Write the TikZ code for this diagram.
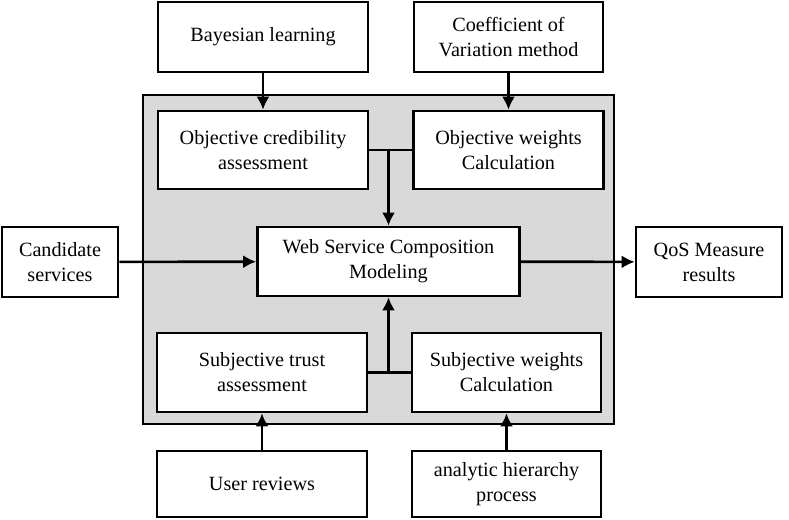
\documentclass[tikz,border=0pt]{standalone}
\usepackage{fontspec}
\setmainfont{Liberation Serif}
\usetikzlibrary{arrows.meta,positioning}
\definecolor{panelgray}{HTML}{D9D9D9}

\begin{document}
\begin{tikzpicture}[
    x=0.02cm, y=-0.02cm,
    box/.style={draw, line width=1.5pt, fill=white, align=center, inner sep=0pt,
      font=\fontsize{11.5}{14.2}\selectfont},
    arrow/.style={-{Latex[length=2.6mm, width=2.6mm]}, line width=1.5pt},
    link/.style={line width=1.5pt}
  ]
    \useasboundingbox (0,0) rectangle (789,520);
    % grey panel behind the inner steps
    \draw[line width=1.5pt, fill=panelgray] (143,95) rectangle (614,424);

    \node[box, minimum width=4.2cm, minimum height=1.4cm] (bayes) at (263,37) {Bayesian learning};
    \node[box, minimum width=3.78cm, minimum height=1.4cm] (coef) at (508.5,37) {Coefficient of\\Variation method};
    \node[box, minimum width=4.2cm, minimum height=1.56cm] (objcred) at (263,150) {Objective credibility\\assessment};
    \node[box, minimum width=3.8cm, minimum height=1.56cm] (objw) at (508.5,150) {Objective weights\\Calculation};
    \node[box, minimum width=5.24cm, minimum height=1.38cm] (wsc) at (388.5,261.5) {Web Service Composition\\Modeling};
    \node[box, minimum width=2.32cm, minimum height=1.4cm] (cand) at (60,262) {Candidate\\services};
    \node[box, minimum width=2.92cm, minimum height=1.4cm] (qos) at (709,262) {QoS Measure\\results};
    \node[box, minimum width=4.2cm, minimum height=1.58cm] (subtrust) at (262,372.5) {Subjective trust\\assessment};
    \node[box, minimum width=3.78cm, minimum height=1.58cm] (subw) at (506.5,372.5) {Subjective weights\\Calculation};
    \node[box, minimum width=4.2cm, minimum height=1.32cm] (user) at (262,484) {User reviews};
    \node[box, minimum width=3.78cm, minimum height=1.32cm] (ahp) at (506.5,484) {analytic hierarchy\\process};

    \coordinate (topjoin) at (wsc.north |- objcred.east);
    \coordinate (botjoin) at (wsc.south |- subtrust.east);

    \draw[arrow] (bayes) -- (objcred);
    \draw[arrow] (coef) -- (objw);
    \draw[link] (objcred.east) -- (objw.west);
    \draw[arrow] (topjoin) -- (wsc.north);
    \draw[link] (subtrust.east) -- (subw.west);
    \draw[arrow] (botjoin) -- (wsc.south);
    \draw[arrow] (user) -- (subtrust);
    \draw[arrow] (ahp) -- (subw);
    \draw[arrow] (cand) -- (wsc);
    \draw[arrow] (wsc) -- (qos);
  \end{tikzpicture}
\end{document}
